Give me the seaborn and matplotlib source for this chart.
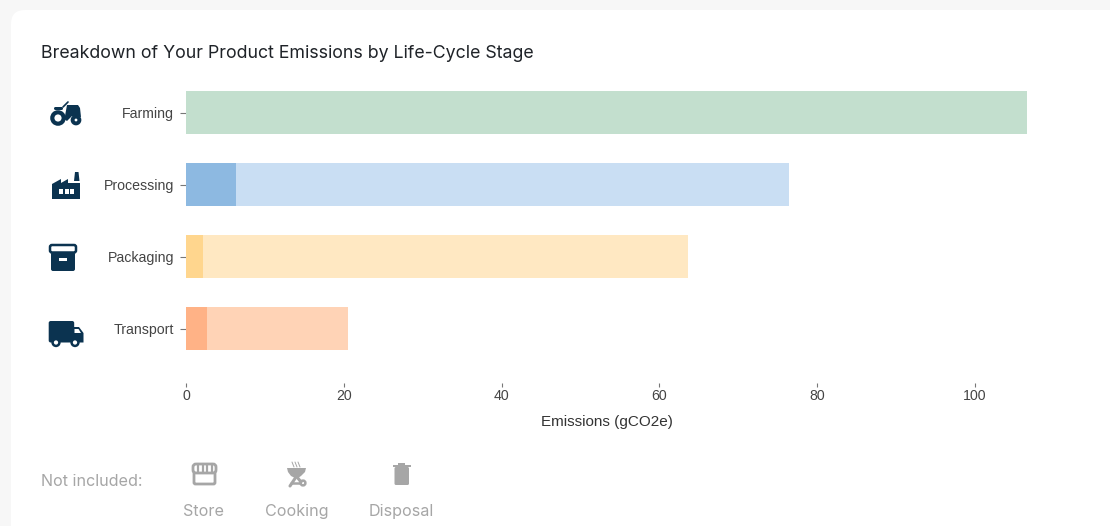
import matplotlib
matplotlib.use("Agg")
import matplotlib.pyplot as plt
import pandas as pd
import seaborn as sns
from matplotlib.patches import Circle, FancyBboxPatch, Polygon, Rectangle

stages = ["Farming", "Processing", "Packaging", "Transport"]
totals = [106.6, 76.4, 63.6, 20.5]
inner = [0, 6.3, 2.1, 2.6]
light_colors = ["#c3dfce", "#c9def3", "#ffe8c2", "#ffd3b6"]
dark_colors = ["#c3dfce", "#8db9e1", "#ffd68e", "#ffb286"]
x_ticks = [0, 20, 40, 60, 80, 100]
not_included = ["Store", "Cooking", "Disposal"]
not_included_x = [204, 296.5, 401.5]

NAVY = "#0b3350"
GREY = "#a6a6a6"

sns.set_theme(style="white")
plt.rcParams["font.family"] = ["Liberation Sans", "DejaVu Sans"]
plt.rcParams["patch.linewidth"] = 0
INTER = ["Inter", "DejaVu Sans"]

df = pd.DataFrame({"stage": stages, "total": totals, "inner": inner})

fig = plt.figure(figsize=(11.10, 5.26), dpi=100, facecolor="#f7f7f7")

# page layer in pixel coordinates, for card and icons
bg = fig.add_axes([0, 0, 1, 1], zorder=0)
bg.set_xlim(0, 1110)
bg.set_ylim(526, 0)
bg.axis("off")
bg.add_patch(FancyBboxPatch((11, 10), 1200, 600, boxstyle="round,pad=0,rounding_size=14", fc="white"))


def tractor():
    bg.add_patch(Polygon([(65, 116), (67, 105), (78, 105), (80, 108), (81, 117), (72, 116), (67, 121), (64, 119)], fc=NAVY))
    bg.add_patch(FancyBboxPatch((54, 107), 9, 3, boxstyle="round,pad=0,rounding_size=1.5", fc=NAVY))
    bg.plot([63, 68], [107, 102], color=NAVY, lw=1.2)
    bg.add_patch(Circle((58, 118), 5.7, fc="white", ec=NAVY, lw=3))
    bg.add_patch(Circle((76, 120), 3.4, fc="white", ec=NAVY, lw=2.8))


def factory():
    bg.add_patch(Polygon([(52, 199), (52, 184), (61, 179), (61, 183), (68, 179), (68, 183), (80, 183), (80, 199)], fc=NAVY))
    bg.add_patch(Polygon([(74, 181), (75, 172), (78.5, 172), (79.5, 181)], fc=NAVY))
    for x0 in (59, 65, 70):
        bg.add_patch(Rectangle((x0, 189), 3.5, 5, fc="white"))


def box():
    bg.add_patch(FancyBboxPatch((51, 252), 24, 19, boxstyle="round,pad=0,rounding_size=2", fc=NAVY))
    bg.add_patch(FancyBboxPatch((50, 245), 26, 7.5, boxstyle="round,pad=0,rounding_size=2", fc="white", ec=NAVY, lw=1.8))
    bg.add_patch(Rectangle((59, 258), 8, 2.5, fc="white"))


def truck():
    bg.add_patch(FancyBboxPatch((48.7, 321), 25.5, 21.5, boxstyle="round,pad=0,rounding_size=2", fc=NAVY))
    bg.add_patch(Polygon([(74, 327), (79, 327), (83.5, 333), (83.5, 342.5), (74, 342.5)], fc=NAVY))
    bg.add_patch(Polygon([(74.5, 329), (78.5, 329), (81, 333), (74.5, 333)], fc="white"))
    for x0 in (56, 75):
        bg.add_patch(Circle((x0, 342.5), 3.4, fc="white", ec=NAVY, lw=1.8))


def store():
    bg.add_patch(FancyBboxPatch((194, 470), 21, 14, boxstyle="round,pad=0,rounding_size=1.5", fc="white", ec=GREY, lw=2))
    bg.add_patch(FancyBboxPatch((193, 464), 23, 9, boxstyle="round,pad=0,rounding_size=3", fc="white", ec=GREY, lw=2))
    for x0 in (198, 202.5, 207, 211.5):
        bg.plot([x0, x0], [464, 473], color=GREY, lw=1.6)


def grill():
    bg.add_patch(Polygon([(287, 468), (306, 468), (305, 472), (301, 476), (298, 478), (295, 478), (291, 476), (288, 472)], fc=GREY))
    bg.plot([296, 290], [477, 486], color=GREY, lw=2.2)
    bg.plot([297, 301], [477, 482], color=GREY, lw=2.2)
    bg.plot([291, 300], [483, 483], color=GREY, lw=1.8)
    bg.add_patch(Circle((303, 483), 2.4, fc="white", ec=GREY, lw=1.8))
    for x0 in (293, 296, 299):
        bg.plot([x0 - 1, x0 + 1], [462, 467], color=GREY, lw=0.7)


def trash():
    bg.add_patch(FancyBboxPatch((394.5, 467), 14.5, 18, boxstyle="round,pad=0,rounding_size=1.5", fc=GREY))
    bg.add_patch(Rectangle((393, 464.5), 18, 2, fc=GREY))
    bg.add_patch(Rectangle((398, 462.5), 7, 2, fc=GREY))


tractor()
factory()
box()
truck()
store()
grill()
trash()

bg.text(41, 54, "Breakdown of Your Product Emissions by Life-Cycle Stage", fontsize=12.8,
        family=INTER, color="#1f2328", va="center", ha="left")
bg.text(41, 481.5, "Not included:", fontsize=11.6, family=INTER, color=GREY, va="center")
for name, xc in zip(not_included, not_included_x):
    bg.text(xc, 511.5, name, fontsize=11.6, family=INTER, color=GREY, va="center", ha="center")

# chart: axes box runs from x 186 to 1027 px and y 76.5 to 382.5 px
ax = fig.add_axes([186/1110, 1-382.5/526, (1027-186)/1110, 306/526], zorder=1)
ax.patch.set_alpha(0)
sns.barplot(data=df, y="stage", x="total", hue="stage", palette=light_colors, legend=False,
            width=0.6, saturation=1, linewidth=0, ax=ax)
sns.barplot(data=df, y="stage", x="inner", hue="stage", palette=dark_colors, legend=False,
            width=0.6, saturation=1, linewidth=0, ax=ax)
ax.set_xlim(0, 106.6)
ax.set_ylim(3.75, -0.5)
ax.set_xticks(x_ticks)
ax.set_xlabel("Emissions (gCO2e)", fontsize=11, color="#333333", labelpad=8.5)
ax.set_ylabel("")
ax.tick_params(axis="x", length=3, width=0.8, color="#777777", labelsize=10.2, labelcolor="#444444", bottom=True, pad=1.5)
ax.tick_params(axis="y", length=4.5, width=0.8, color="#777777", labelsize=10.2, labelcolor="#444444", left=True, pad=4)
sns.despine(ax=ax, left=True, bottom=True)

fig.savefig("out.png", dpi=100, facecolor=fig.get_facecolor())
